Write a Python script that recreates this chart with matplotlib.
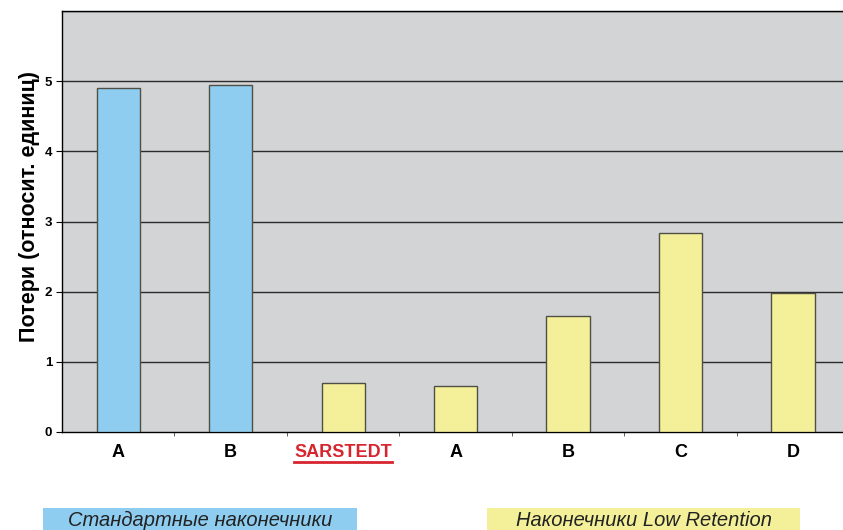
import numpy as np
import matplotlib.pyplot as plt
from matplotlib.lines import Line2D
from matplotlib.patches import Rectangle

###########################################################################################################################################################
######################################################################### Data ############################################################################
###########################################################################################################################################################
categories                      = ["A", "B", "SARSTEDT", "A", "B", "C", "D"]
losses                          = [4.91, 4.94, 0.70, 0.66, 1.65, 2.83, 1.98]
groups                          = ["std", "std", "lr", "lr", "lr", "lr", "lr"]
y_ticks                         = [0, 1, 2, 3, 4, 5]
legend_labels                   = ["Стандартные наконечники", "Наконечники Low Retention"]

blue                            = "#8FCDF0"
yellow                          = "#F4F09A"
bar_colors                      = [blue if g == "std" else yellow for g in groups]

plt.rcParams["font.family"]     = ["Liberation Sans", "DejaVu Sans"]

###########################################################################################################################################################
######################################################################### Plot ############################################################################
###########################################################################################################################################################
fig                             = plt.figure(figsize = (8.43, 5.30), dpi = 100)
ax                              = fig.add_axes([0.0735, 0.185, 0.934, 0.794])
ax.set_facecolor("#D3D4D6")

x                               = np.arange(len(categories))
ax.bar(x, losses, width = 0.385, color = bar_colors, edgecolor = "#4f4f45", linewidth = 1.0, zorder = 3)

ax.set_xlim(-0.5, len(categories) - 0.5)
ax.set_ylim(0, 6)
ax.set_yticks(y_ticks)
ax.set_yticklabels([str(t) for t in y_ticks], fontsize = 9.5, fontweight = "bold")
for t in range(1, 7):
    ax.axhline(t, color = "#2b2b2b", linewidth = 1.0, zorder = 1)

ax.set_xticks(x)
ax.set_xticklabels(categories, fontsize = 13, fontweight = "bold")
ax.set_xticks(x[:-1] + 0.5, minor = True)
ax.tick_params(axis = "x", which = "major", length = 0, pad = 9)
ax.tick_params(axis = "x", which = "minor", length = 3, direction = "out", color = "#444444")
ax.tick_params(axis = "y", length = 4, direction = "out", pad = 3)
sars_label                      = ax.get_xticklabels()[2]
sars_label.set_color("#D7252F")

ax.spines["right"].set_visible(False)
for side in ["left", "bottom", "top"]:
    ax.spines[side].set_color("black")
    ax.spines[side].set_linewidth(1.0)

ax.set_ylabel("Потери (относит. единиц)", fontsize = 15.5, fontweight = "bold")
ax.yaxis.set_label_coords(-0.0285, 0.535)

###########################################################################################################################################################
# underline for SARSTEDT
fig.canvas.draw()
bb                              = sars_label.get_window_extent()
W, H                            = fig.canvas.get_width_height()
y_ul                            = (bb.y0 - 1) / H
fig.add_artist(Line2D([bb.x0 / W, bb.x1 / W], [y_ul, y_ul], color = "#D7252F", linewidth = 2.0))

###########################################################################################################################################################
# group boxes below the chart
box_specs                       = [(43, 357, blue), (487, 800, yellow)]
for (x0, x1, c), label in zip(box_specs, legend_labels):
    fig.add_artist(Rectangle((x0 / W, 0.0), (x1 - x0) / W, 22 / H, transform = fig.transFigure,
                             facecolor = c, edgecolor = "none"))
    fig.text((x0 + x1) / 2 / W, 10 / H, label, ha = "center", va = "center", fontsize = 14.5,
             style = "italic", color = "#222222")

fig.savefig("out.png", dpi = 100)
